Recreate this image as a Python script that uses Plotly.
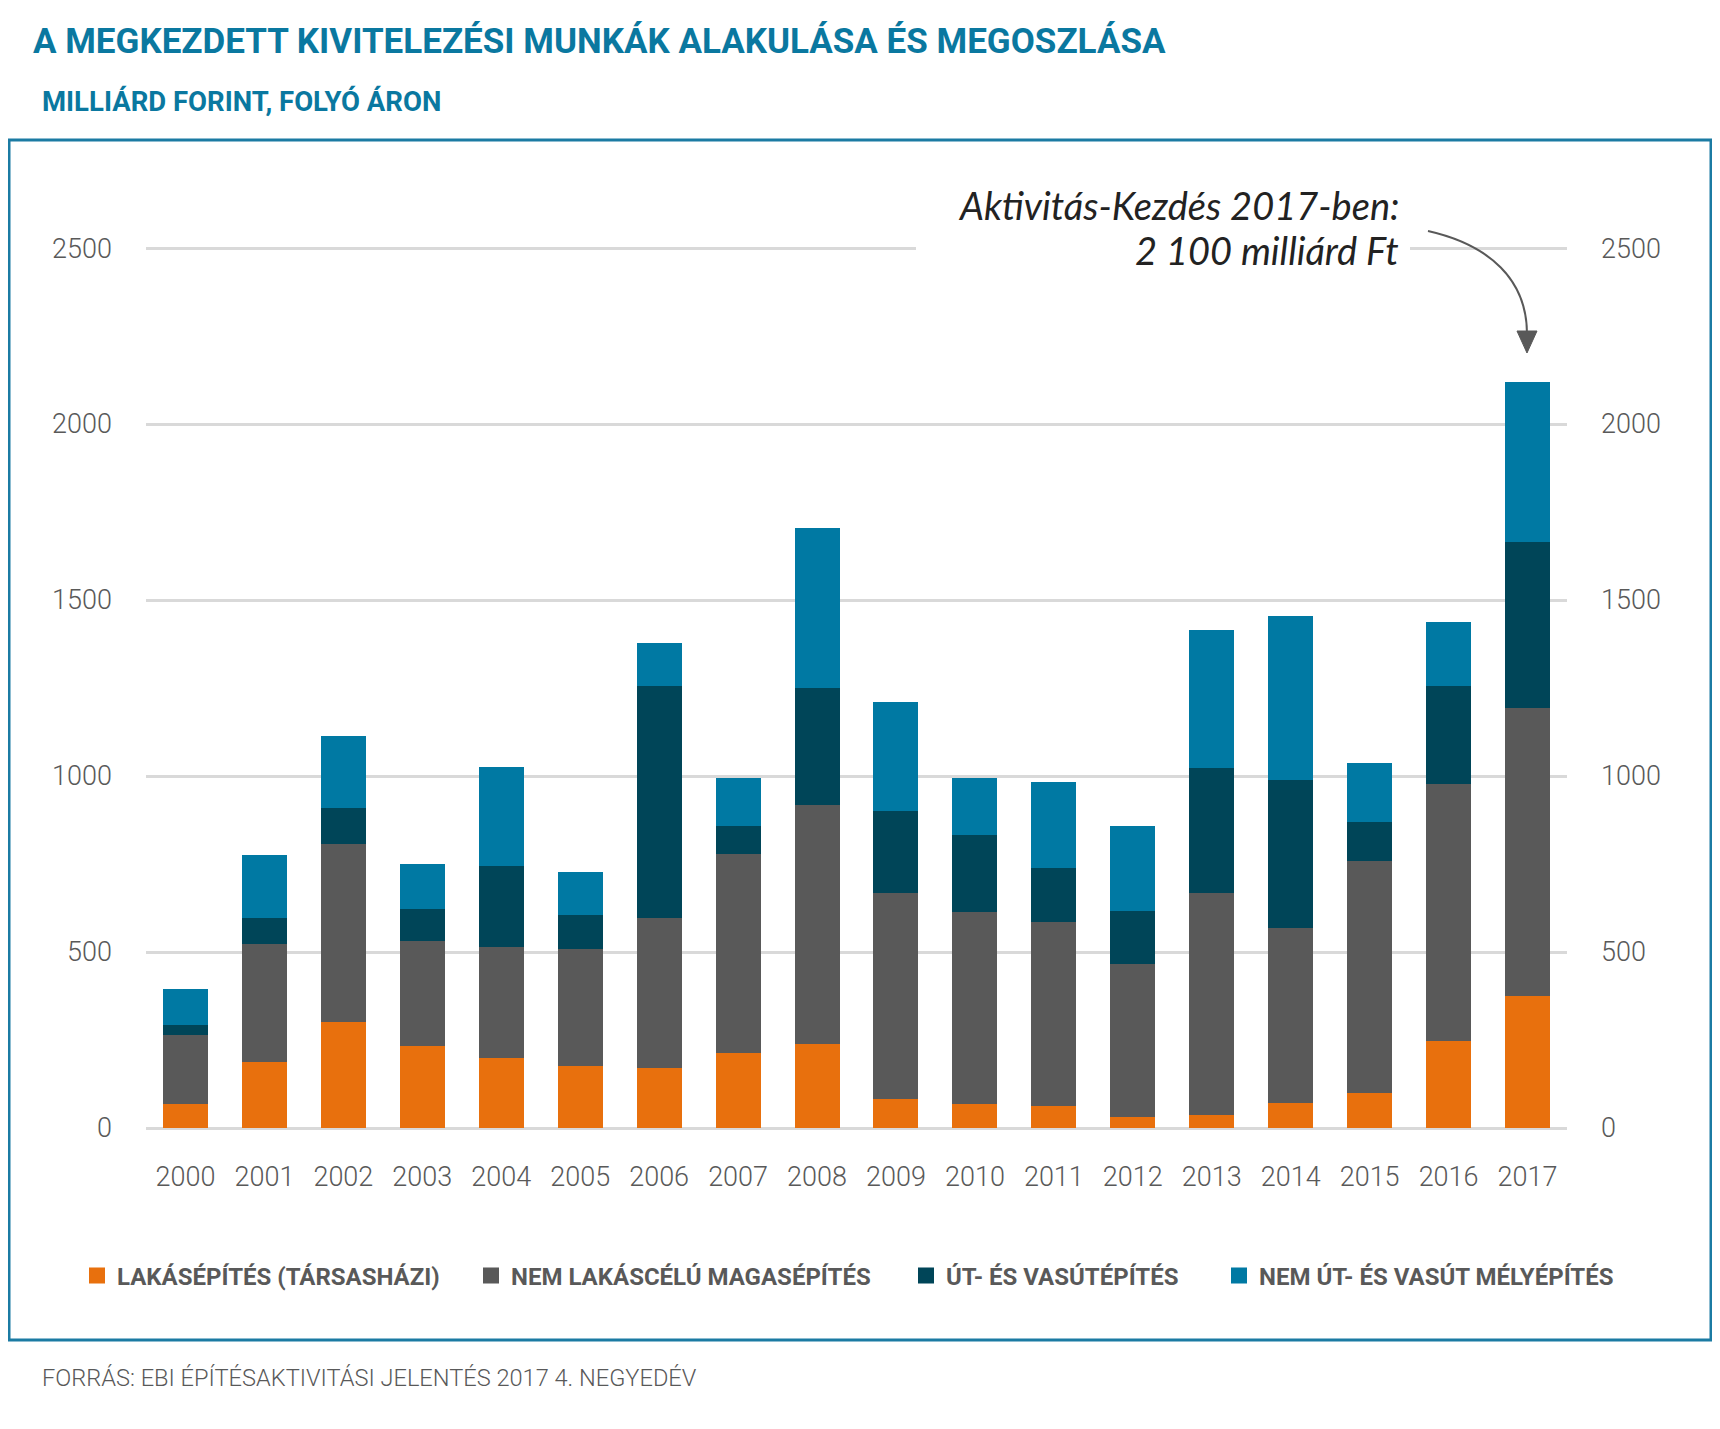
import plotly.graph_objects as go

years = [str(y) for y in range(2000, 2018)]
lakas = [68, 188, 302, 233, 200, 177, 170, 212, 238, 82, 67, 62, 31, 38, 71, 100, 248, 375]
nem_lakas = [195, 336, 506, 297, 313, 331, 428, 566, 681, 585, 547, 523, 436, 630, 498, 660, 730, 818]
ut_vasut = [31, 74, 102, 92, 230, 98, 658, 81, 330, 235, 218, 154, 149, 355, 419, 108, 279, 473]
nem_ut = [100, 177, 205, 128, 284, 122, 123, 136, 456, 307, 162, 243, 243, 392, 466, 168, 181, 453]
series_names = ["LAKÁSÉPÍTÉS (TÁRSASHÁZI)", "NEM LAKÁSCÉLÚ MAGASÉPÍTÉS",
                "ÚT- ÉS VASÚTÉPÍTÉS", "NEM ÚT- ÉS VASÚT MÉLYÉPÍTÉS"]
series_colors = ["#E8700D", "#595959", "#004558", "#0079A3"]
y_ticks = [0, 500, 1000, 1500, 2000, 2500]
y_range = [0, 2503]

# page body has an 8px margin, so the figure is drawn 8px smaller and all
# reference-pixel positions are shifted by OFF (top/left only)
OFF = 8
W, H = 1720 - OFF, 1429 - OFF
ML, MR, MT, MB = 146 - OFF, 153, 247 - OFF, 301
PW, PH = W - ML - MR, H - MT - MB


def px(x):
    return (x - OFF - ML) / PW


def py(y):
    return (H - MB - (y - OFF)) / PH


FONT = "Roboto, Lato, sans-serif"
TEAL = "#0A78A0"
GRAY = "#595959"

fig = go.Figure()
legend_ids = ["legend", "legend2", "legend3", "legend4"]
for name, vals, col, lg in zip(series_names, [lakas, nem_lakas, ut_vasut, nem_ut],
                               series_colors, legend_ids):
    fig.add_trace(go.Bar(x=years, y=vals, name=name, showlegend=False,
                         marker=dict(color=col, line=dict(width=0))))
    fig.add_trace(go.Scatter(x=[None], y=[None], name=name, mode="markers", legend=lg,
                             marker=dict(symbol="square", size=19, color=col),
                             hoverinfo="skip"))

totals = [a + b + c + d for a, b, c, d in zip(lakas, nem_lakas, ut_vasut, nem_ut)]
fig.add_trace(go.Scatter(x=years, y=totals, yaxis="y2", mode="markers",
                         marker=dict(opacity=0), showlegend=False, hoverinfo="skip"))

tickfont = dict(family=FONT, size=27, color=GRAY, weight=300)
legfont = dict(family=FONT, size=24, color=GRAY, weight="bold")
legend_x = [88, 482, 917, 1230]


def leg(x):
    return dict(orientation="h", x=px(x - 11), y=py(1276), xanchor="left",
                yanchor="middle", font=legfont, itemwidth=30,
                bgcolor="rgba(0,0,0,0)")


fig.update_layout(
    width=W, height=H,
    margin=dict(l=ML, r=MR, t=MT, b=MB),
    paper_bgcolor="white", plot_bgcolor="white",
    barmode="stack", bargap=0.43,
    font=dict(family=FONT, color=GRAY),
    xaxis=dict(type="category", range=[-0.5, 17.5], showgrid=False, showline=False,
               zeroline=False, ticks="", tickfont=tickfont, ticklabelstandoff=30),
    yaxis=dict(range=y_range, tickvals=y_ticks, showgrid=True, gridcolor="#D9D9D9",
               gridwidth=2.5, zeroline=True, zerolinecolor="#D9D9D9", zerolinewidth=2.5,
               showline=False, ticks="", tickfont=tickfont, ticklabelstandoff=33),
    yaxis2=dict(range=y_range, tickvals=y_ticks, overlaying="y", side="right",
                showgrid=False, zeroline=False, showline=False, ticks="",
                tickfont=tickfont, ticklabelstandoff=33),
    legend=leg(legend_x[0]), legend2=leg(legend_x[1]),
    legend3=leg(legend_x[2]), legend4=leg(legend_x[3]),
    showlegend=True,
)

annotations = [
    dict(text="<b>A MEGKEZDETT KIVITELEZÉSI MUNKÁK ALAKULÁSA ÉS MEGOSZLÁSA</b>",
         x=px(31), y=py(41), xanchor="left", yanchor="middle",
         font=dict(family=FONT, size=35, color=TEAL)),
    dict(text="<b>MILLIÁRD FORINT, FOLYÓ ÁRON</b>",
         x=px(40), y=py(102), xanchor="left", yanchor="middle",
         font=dict(family=FONT, size=27.5, color=TEAL)),
    dict(text="FORRÁS: EBI ÉPÍTÉSAKTIVITÁSI JELENTÉS 2017 4. NEGYEDÉV",
         x=px(40), y=py(1378), xanchor="left", yanchor="middle",
         font=dict(family=FONT, size=23.6, color=GRAY, weight=300)),
    dict(text="<i>Aktivitás-Kezdés 2017-ben:</i>",
         x=px(1401), y=py(205), xanchor="right", yanchor="middle",
         font=dict(family="Lato, sans-serif", size=38, color="#222222")),
    dict(text="<i>2 100 milliárd Ft</i>",
         x=px(1401), y=py(250), xanchor="right", yanchor="middle",
         font=dict(family="Lato, sans-serif", size=38, color="#222222")),
]
for a in annotations:
    a.update(xref="paper", yref="paper", showarrow=False)
fig.update_layout(annotations=annotations)


def pt(x, y):
    return f"{px(x):.5f},{py(y):.5f}"


shapes = [
    # frame
    dict(type="rect", xref="paper", yref="paper", x0=px(9), x1=px(1711), y0=py(140), y1=py(1340),
         line=dict(color="#1B7BA3", width=3), fillcolor="rgba(0,0,0,0)", layer="below"),
    # white cover behind the annotation text on the top gridline
    dict(type="rect", xref="paper", yref="paper", x0=px(916), x1=px(1410), y0=py(242), y1=py(255),
         line=dict(width=0), fillcolor="white", layer="above"),
    # curved arrow
    dict(type="path", xref="paper", yref="paper",
         path=f"M {pt(1428,231)} C {pt(1490,245)} {pt(1527,280)} {pt(1527,334)}",
         line=dict(color=GRAY, width=2)),
    dict(type="path", xref="paper", yref="paper",
         path=f"M {pt(1517,331)} L {pt(1537,331)} L {pt(1527,353)} Z",
         line=dict(color=GRAY, width=1), fillcolor=GRAY),
]
fig.update_layout(shapes=shapes)

fig.write_html("out.html")
